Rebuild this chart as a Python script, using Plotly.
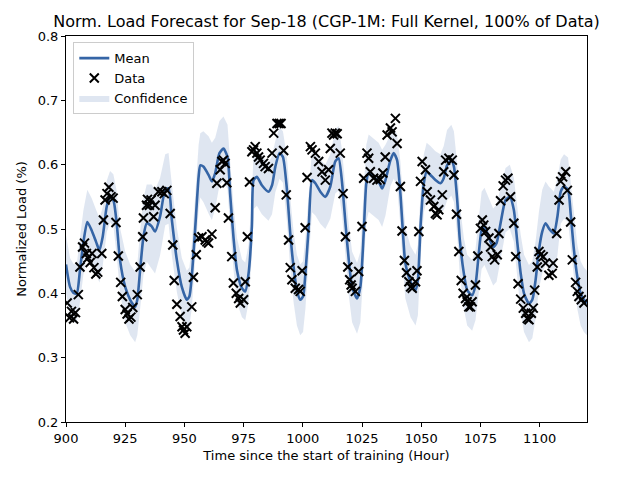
"""
Normalized load forecast (GP mean, data, confidence band) for Sep-18.
"""

import plotly.graph_objects as go

# Data
# GP mean and confidence band, sampled along the time axis (hours)
mean_hours = [
    900, 901.7, 903.1, 904.5, 905.9, 907.3, 909, 910.8, 912.7, 914.1,
    915.5, 917.2, 918.6, 920, 921.4, 922.8, 925, 927.1, 929.2, 930.1,
    931.3, 932.7, 934.1, 936.2, 937.6, 939.7, 941.9, 943.3, 944.7, 946.8,
    948.9, 951, 952.1, 953.1, 954.5, 956, 956.7, 958, 960.2, 961.6,
    963, 964.8, 966.5, 968.2, 969.3, 970.7, 972.2, 974.3, 975.7, 977.1,
    978.5, 979.2, 980.6, 982.7, 985.5, 987, 988.4, 990.2, 991.6, 993.3,
    994.7, 996.1, 997.5, 998.9, 1000.1, 1001.1, 1002.5, 1003.9, 1005.3, 1007.4,
    1009.5, 1011.6, 1013.7, 1015.1, 1016.6, 1018, 1019.4, 1020.8, 1022.9, 1024.3,
    1025.7, 1026.8, 1027.8, 1029.9, 1032, 1033.5, 1034.9, 1037, 1038.4, 1039.8,
    1041.2, 1042.3, 1043.3, 1045.5, 1047.6, 1048.6, 1049.7, 1051.1, 1052.3, 1053.9,
    1056, 1058.1, 1059.5, 1060.9, 1062.7, 1063.8, 1065.2, 1066.3, 1068, 1069.4,
    1071.5, 1072.9, 1074.3, 1075.5, 1076.7, 1078.6, 1080.4, 1081.8, 1083.5, 1085.6,
    1087.4, 1089.1, 1090.6, 1092, 1093.4, 1095.5, 1096.9, 1098.3, 1099.7, 1101.1,
    1102.5, 1103.9, 1106, 1107.5, 1108.9, 1110.3, 1112, 1113.1, 1114.5, 1115.9,
    1117.3, 1118.7, 1120,
]
mean_load = [
    0.445, 0.410, 0.401, 0.399, 0.436, 0.478, 0.511, 0.498, 0.480, 0.467,
    0.488, 0.535, 0.550, 0.545, 0.509, 0.452, 0.410, 0.390, 0.379, 0.390,
    0.436, 0.488, 0.509, 0.504, 0.496, 0.519, 0.561, 0.563, 0.514, 0.452,
    0.410, 0.390, 0.395, 0.426, 0.498, 0.581, 0.599, 0.597, 0.584, 0.574,
    0.587, 0.618, 0.625, 0.612, 0.555, 0.488, 0.436, 0.408, 0.403, 0.431,
    0.504, 0.576, 0.581, 0.568, 0.558, 0.568, 0.597, 0.618, 0.612, 0.561,
    0.493, 0.441, 0.405, 0.390, 0.395, 0.431, 0.504, 0.576, 0.571, 0.558,
    0.550, 0.566, 0.605, 0.610, 0.571, 0.509, 0.452, 0.410, 0.392, 0.410,
    0.493, 0.571, 0.587, 0.581, 0.574, 0.563, 0.576, 0.607, 0.618, 0.607,
    0.555, 0.493, 0.447, 0.418, 0.405, 0.421, 0.504, 0.571, 0.589, 0.584,
    0.576, 0.571, 0.579, 0.599, 0.607, 0.597, 0.545, 0.483, 0.431, 0.405,
    0.397, 0.413, 0.462, 0.498, 0.504, 0.486, 0.472, 0.478, 0.509, 0.545,
    0.550, 0.530, 0.478, 0.431, 0.400, 0.384, 0.390, 0.421, 0.467, 0.496,
    0.509, 0.501, 0.493, 0.519, 0.558, 0.566, 0.561, 0.524, 0.467, 0.426,
    0.400, 0.390, 0.385,
]
lower_load = [
    0.400, 0.365, 0.356, 0.354, 0.386, 0.428, 0.461, 0.448, 0.430, 0.417,
    0.443, 0.495, 0.510, 0.505, 0.459, 0.402, 0.355, 0.335, 0.324, 0.335,
    0.376, 0.428, 0.449, 0.439, 0.431, 0.459, 0.506, 0.508, 0.459, 0.402,
    0.365, 0.345, 0.350, 0.376, 0.448, 0.531, 0.549, 0.542, 0.524, 0.514,
    0.532, 0.568, 0.575, 0.562, 0.505, 0.438, 0.386, 0.363, 0.358, 0.386,
    0.459, 0.531, 0.536, 0.523, 0.513, 0.523, 0.557, 0.578, 0.572, 0.511,
    0.438, 0.386, 0.350, 0.335, 0.340, 0.376, 0.454, 0.526, 0.521, 0.508,
    0.500, 0.516, 0.555, 0.560, 0.521, 0.454, 0.397, 0.355, 0.337, 0.355,
    0.438, 0.511, 0.527, 0.521, 0.514, 0.503, 0.521, 0.567, 0.578, 0.567,
    0.505, 0.438, 0.392, 0.363, 0.350, 0.366, 0.454, 0.526, 0.544, 0.539,
    0.531, 0.526, 0.529, 0.544, 0.552, 0.542, 0.490, 0.428, 0.376, 0.350,
    0.342, 0.358, 0.402, 0.438, 0.444, 0.426, 0.412, 0.418, 0.454, 0.495,
    0.500, 0.480, 0.423, 0.371, 0.340, 0.324, 0.330, 0.361, 0.407, 0.431,
    0.444, 0.436, 0.428, 0.459, 0.508, 0.516, 0.511, 0.474, 0.417, 0.376,
    0.350, 0.340, 0.335,
]
upper_load = [
    0.490, 0.455, 0.446, 0.444, 0.486, 0.528, 0.561, 0.548, 0.530, 0.517,
    0.533, 0.575, 0.590, 0.585, 0.559, 0.502, 0.465, 0.445, 0.434, 0.445,
    0.496, 0.548, 0.569, 0.569, 0.561, 0.579, 0.616, 0.618, 0.569, 0.502,
    0.455, 0.435, 0.440, 0.476, 0.548, 0.631, 0.649, 0.652, 0.644, 0.634,
    0.642, 0.668, 0.675, 0.662, 0.605, 0.538, 0.486, 0.453, 0.448, 0.476,
    0.549, 0.621, 0.626, 0.613, 0.603, 0.613, 0.637, 0.658, 0.652, 0.611,
    0.548, 0.496, 0.460, 0.445, 0.450, 0.486, 0.554, 0.626, 0.621, 0.608,
    0.600, 0.616, 0.655, 0.660, 0.621, 0.564, 0.507, 0.465, 0.447, 0.465,
    0.548, 0.631, 0.647, 0.641, 0.634, 0.623, 0.631, 0.647, 0.658, 0.647,
    0.605, 0.548, 0.502, 0.473, 0.460, 0.476, 0.554, 0.616, 0.634, 0.629,
    0.621, 0.616, 0.629, 0.654, 0.662, 0.652, 0.600, 0.538, 0.486, 0.460,
    0.452, 0.468, 0.522, 0.558, 0.564, 0.546, 0.532, 0.538, 0.564, 0.595,
    0.600, 0.580, 0.533, 0.491, 0.460, 0.444, 0.450, 0.481, 0.527, 0.561,
    0.574, 0.566, 0.558, 0.579, 0.608, 0.616, 0.611, 0.574, 0.517, 0.476,
    0.450, 0.440, 0.435,
]

# Observed data points
data_hours = [
    900.5, 901.5, 902.3, 903.2, 904.0, 905.2, 905.9, 907.0, 907.8, 908.6,
    909.3, 910.2, 911.0, 911.8, 912.6, 913.4, 915.1, 915.8, 916.5, 917.3,
    918.1, 919.0, 919.9, 921.1, 922.1, 923.1, 923.8, 925.0, 925.8, 926.6,
    927.4, 928.2, 930.1, 931.3, 932.4, 932.7, 934.0, 934.4, 935.2, 935.9,
    937.0, 937.6, 939.0, 940.5, 941.5, 942.6, 944.0, 945.1, 945.7, 946.8,
    948.2, 949.0, 949.6, 950.3, 951.0, 953.1, 953.8, 955.0, 956.0, 957.4,
    958.8, 959.5, 960.2, 961.6, 963.0, 963.7, 965.1, 965.8, 966.5, 967.2,
    967.9, 968.6, 970.0, 970.7, 971.9, 972.9, 973.6, 975.0, 975.7, 976.6,
    977.5, 978.5, 979.2, 979.9, 980.6, 981.3, 982.0, 983.4, 984.1, 985.5,
    987.0, 987.7, 989.1, 990.0, 990.8, 991.9, 993.0, 994.0, 994.7, 995.4,
    996.8, 998.2, 998.9, 999.7, 1001.0, 1001.8, 1003.2, 1003.9, 1005.3, 1006.7,
    1008.1, 1009.5, 1010.9, 1011.6, 1012.3, 1013.0, 1013.7, 1014.5, 1015.8, 1017.0,
    1018.0, 1019.0, 1019.8, 1020.4, 1020.8, 1022.2, 1023.6, 1025.0, 1025.7, 1027.1,
    1027.8, 1028.5, 1029.9, 1031.3, 1032.7, 1033.8, 1034.8, 1035.6, 1037.0, 1037.7,
    1039.1, 1039.8, 1041.2, 1041.9, 1042.9, 1043.8, 1044.8, 1045.5, 1046.2, 1047.6,
    1048.2, 1049.0, 1049.7, 1050.4, 1051.8, 1052.5, 1053.9, 1055.3, 1056.0, 1056.7,
    1057.4, 1058.9, 1059.5, 1060.3, 1061.7, 1063.1, 1063.8, 1064.9, 1065.9, 1066.9,
    1067.7, 1068.7, 1069.4, 1070.1, 1070.8, 1071.5, 1072.9, 1073.9, 1075.0, 1075.8,
    1076.4, 1077.2, 1078.6, 1079.3, 1080.0, 1081.0, 1082.1, 1082.8, 1083.5, 1084.6,
    1085.6, 1086.6, 1087.7, 1089.1, 1089.9, 1090.9, 1092.0, 1093.1, 1094.1, 1094.8,
    1095.5, 1096.5, 1097.3, 1097.9, 1099.0, 1099.7, 1100.4, 1101.5, 1102.5, 1103.9,
    1105.3, 1105.7, 1107.2, 1108.2, 1108.9, 1109.7, 1111.0, 1111.7, 1113.1, 1113.8,
    1115.2, 1115.9, 1116.6, 1117.6, 1118.7,
]
data_load = [
    0.385, 0.362, 0.372, 0.360, 0.370, 0.398, 0.441, 0.472, 0.478, 0.462,
    0.455, 0.448, 0.462, 0.440, 0.430, 0.433, 0.462, 0.514, 0.545, 0.555,
    0.565, 0.550, 0.548, 0.510, 0.458, 0.417, 0.395, 0.375, 0.368, 0.360,
    0.363, 0.378, 0.398, 0.441, 0.488, 0.517, 0.537, 0.546, 0.537, 0.545,
    0.519, 0.537, 0.558, 0.558, 0.555, 0.560, 0.524, 0.475, 0.420, 0.383,
    0.364, 0.348, 0.343, 0.338, 0.348, 0.379, 0.425, 0.460, 0.486, 0.488,
    0.483, 0.480, 0.478, 0.492, 0.533, 0.571, 0.592, 0.605, 0.607, 0.602,
    0.572, 0.517, 0.457, 0.416, 0.400, 0.392, 0.385, 0.390, 0.418, 0.488,
    0.573, 0.620, 0.623, 0.628, 0.618, 0.612, 0.607, 0.602, 0.597, 0.594,
    0.618, 0.649, 0.664, 0.664, 0.664, 0.622, 0.553, 0.483, 0.440, 0.421,
    0.408, 0.406, 0.403, 0.435, 0.502, 0.580, 0.628, 0.623, 0.618, 0.605,
    0.589, 0.576, 0.592, 0.625, 0.649, 0.646, 0.649, 0.648, 0.618, 0.555,
    0.488, 0.441, 0.421, 0.413, 0.408, 0.403, 0.434, 0.504, 0.579, 0.618,
    0.610, 0.589, 0.579, 0.576, 0.577, 0.587, 0.612, 0.646, 0.657, 0.651,
    0.672, 0.633, 0.566, 0.497, 0.451, 0.432, 0.418, 0.410, 0.408, 0.418,
    0.435, 0.496, 0.574, 0.605, 0.592, 0.558, 0.545, 0.535, 0.524, 0.522,
    0.530, 0.553, 0.589, 0.607, 0.610, 0.607, 0.584, 0.523, 0.465, 0.420,
    0.400, 0.392, 0.387, 0.379, 0.379, 0.387, 0.413, 0.458, 0.501, 0.514,
    0.506, 0.496, 0.486, 0.472, 0.457, 0.452, 0.460, 0.493, 0.544, 0.567,
    0.576, 0.579, 0.550, 0.509, 0.457, 0.415, 0.391, 0.377, 0.369, 0.361,
    0.359, 0.369, 0.377, 0.405, 0.441, 0.465, 0.460, 0.457, 0.447, 0.428,
    0.431, 0.447, 0.493, 0.545, 0.574, 0.581, 0.589, 0.560, 0.511, 0.452,
    0.417, 0.403, 0.395, 0.390, 0.385,
]

x_ticks = [900, 925, 950, 975, 1000, 1025, 1050, 1075, 1100]
y_ticks = [0.2, 0.3, 0.4, 0.5, 0.6, 0.7, 0.8]

# Colours
blue = "#3565a6"
band = "rgba(53, 101, 166, 0.16)"

axis_style = dict(
    showgrid=False,
    zeroline=False,
    showline=True,
    linecolor="black",
    linewidth=1,
    mirror=True,
    ticks="outside",
    ticklen=4,
    tickwidth=1,
    tickcolor="black",
    tickfont=dict(size=13, color="black"),
)

fig = go.Figure()

# Confidence band (lower edge, then filled upper edge)
fig.add_trace(go.Scatter(
    x=mean_hours, y=lower_load, mode="lines",
    line=dict(width=0, color=band), showlegend=False, hoverinfo="skip",
))
fig.add_trace(go.Scatter(
    x=mean_hours, y=upper_load, mode="lines", fill="tonexty",
    fillcolor=band, line=dict(width=0, color=band),
    name="Confidence", legendrank=3,
))
fig.add_trace(go.Scatter(
    x=mean_hours, y=mean_load, mode="lines",
    line=dict(color=blue, width=2.6, shape="spline", smoothing=0.6),
    name="Mean", legendrank=1,
))
fig.add_trace(go.Scatter(
    x=data_hours, y=data_load, mode="markers",
    marker=dict(symbol="x-thin", size=9, line=dict(width=2, color="black"), color="black"),
    name="Data", legendrank=2,
))

# page body adds an 8px offset, so the figure is drawn 8px smaller
fig.update_layout(
    width=632,
    height=472,
    font=dict(family="DejaVu Sans", size=13, color="black"),
    margin=dict(l=58, r=53, t=28, b=58),
    paper_bgcolor="white",
    plot_bgcolor="white",
    title=dict(
        text="Norm. Load Forecast for Sep-18 (CGP-1M: Full Kernel, 100% of Data)",
        x=0.5, xref="paper", xanchor="center",
        y=1 - 13 / 472, yref="container", yanchor="middle",
        font=dict(size=16, color="black"),
    ),
    legend=dict(
        x=0.014, y=0.984, xanchor="left", yanchor="top",
        traceorder="normal",
        bgcolor="rgba(255,255,255,0.8)", bordercolor="#cccccc", borderwidth=1,
        font=dict(size=13), tracegroupgap=0, itemwidth=30,
    ),
)
fig.update_xaxes(
    range=[900, 1120], tickvals=x_ticks,
    title=dict(text="Time since the start of training (Hour)", standoff=6, font=dict(size=13)),
    **axis_style,
)
fig.update_yaxes(
    range=[0.2, 0.8], tickvals=y_ticks, tickformat=".1f",
    title=dict(text="Normalized Load (%)", standoff=8, font=dict(size=13)),
    **axis_style,
)

fig.write_html("out.html")
